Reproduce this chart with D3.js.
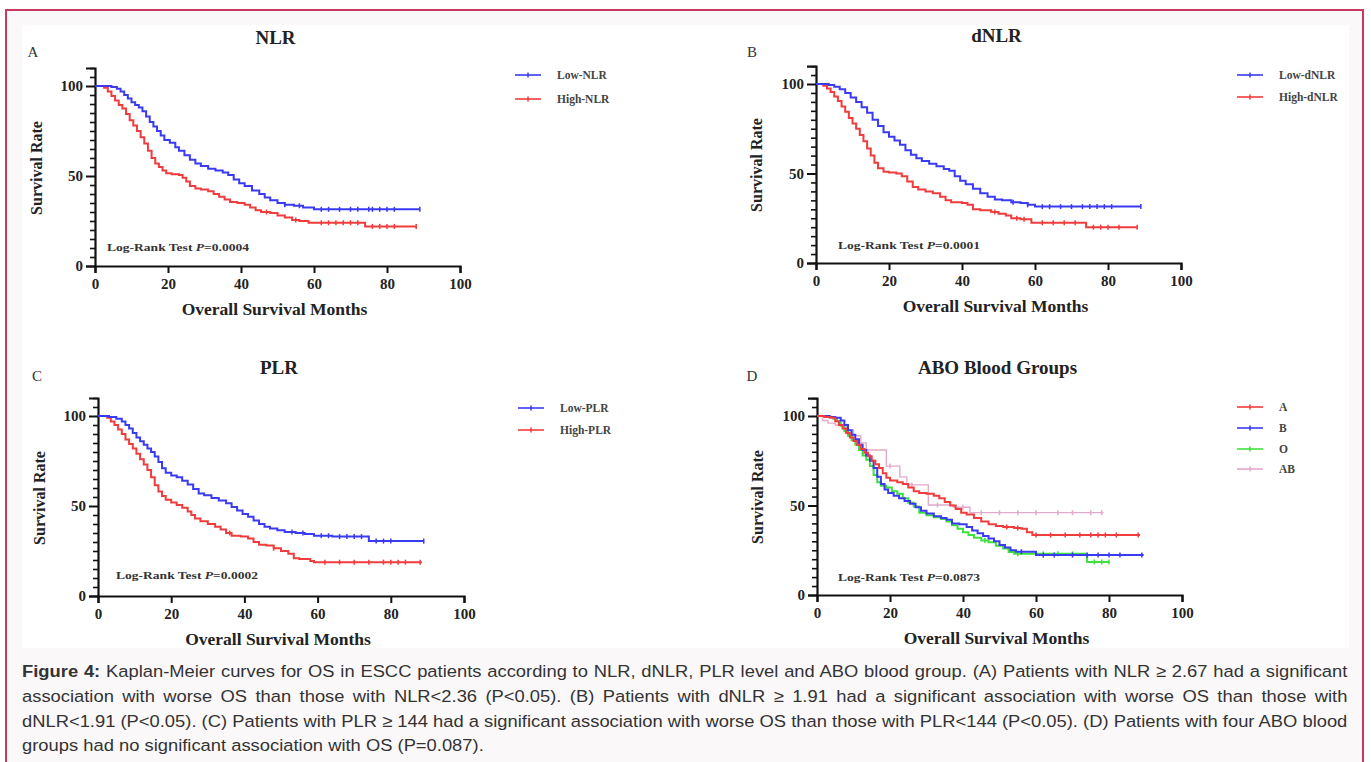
<!DOCTYPE html>
<html><head><meta charset="utf-8">
<script src="https://cdn.jsdelivr.net/npm/d3@7"></script>
<style>body{margin:0;background:#fff;}svg{display:block}</style>
</head><body>
<svg id="c" width="1371" height="762"></svg>
<script>
// ---------- data ----------
const xTicks = [0, 20, 40, 60, 80, 100];
const yTicks = [0, 50, 100];
const yMinor = [5,10,15,20,25,30,35,40,45,55,60,65,70,75,80,85,90,95,105,110];

// Panel A : NLR
const lowNLR = [[0,100],[4.5,99.5],[6,98.5],[7,97],[8,95],[9,93],[10,91],[11,89.5],[12,88],[13,86],[14,83],[15,80],[16,77.5],[17,75],[18,72.5],[19,70],[20.5,68.5],[22,66],[23,64],[24.5,61.5],[26,59],[27.5,57],[29,55.5],[31,54],[33,53],[35,52],[36.5,50.5],[38,48],[39.5,46],[41,44.5],[43,42],[45,40],[46.5,38],[48,36.5],[50,35],[52,34],[54.5,33.5],[57,32.5],[60,31.5],[89,31.5]];
const highNLR = [[0,100],[2.5,99],[3.5,97],[4.5,94.5],[5.5,92],[6.5,89.5],[7.5,87.5],[8.5,84.5],[9.5,81],[10.5,78],[11.5,75],[12.5,71.5],[13.5,68],[14.5,64],[15.5,60],[16.5,57],[17.5,55],[18.5,53],[19.5,51.5],[21,51],[23,50.5],[24,49],[25,47],[26,44.5],[27.5,43],[29,42.5],[31,41.5],[32.5,40],[34,38.5],[35.5,37],[37,35.5],[39,35],[41,34],[42.5,32.5],[44,31],[45.5,30],[48,29.5],[50,28],[52,27],[54,25.5],[56,25],[58.5,24],[74,22],[88,22]];
const lowNLRCens = [52,56,62,64,67,70,72,75,76,78,80,82,89];
const highNLRCens = [47,55,62,64,66,68,70,72,76,78,80,82,88];

// Panel B : dNLR
const lowDNLR = [[0,100],[3.5,99.5],[5,98.5],[6.5,97],[8,95],[9.5,92.5],[11,90],[12.5,87],[14,84],[15.5,80],[17,76.5],[18.5,73],[20,70.5],[21.5,68.5],[23,66],[24.5,63],[26,60.5],[27.5,58.5],[29,57],[31,55.5],[33,54],[35,52.5],[36.5,51.5],[38,48.5],[39.5,46],[41,44],[43,41.5],[45,39],[47,37],[49,35.5],[51,35],[53.5,34],[56,33.5],[58,32.5],[60,31.5],[89,31.5]];
const highDNLR = [[0,100],[2,99],[3,97.5],[4,95.5],[5,93],[6,90.5],[7,87.5],[8,84.5],[9,81],[10,78],[11,75],[12,71.5],[13,68],[14,64],[15,60],[16,56],[17,53],[18.5,51],[20,50.5],[22,50],[23.5,48.5],[25,45.5],[26.5,42.5],[28,41],[30,40],[32,39],[34,37],[35.5,35],[37,34],[40,33.5],[41.5,32.5],[43,30],[45,29.5],[48,28.5],[50,27.5],[52,26.5],[53.5,25],[56,24.5],[59,22.5],[74,20],[88,20]];
const lowDNLRCens = [54,58,62,64,67,70,73,75,77,79,81,89];
const highDNLRCens = [49,55,57,62,65,68,71,76,78,80,83,88];

// Panel C : PLR
const lowPLR = [[0,100],[3,99.5],[5,98.5],[6.5,97],[7.5,95],[8.5,93],[9.5,90.5],[10.5,88],[11.5,86],[12.5,84],[13.5,82],[14.5,80],[15.5,77.5],[16.5,74.5],[17.5,71],[18.5,68.5],[20,67],[21.5,66],[23,64],[24.5,62],[26,59.5],[27.5,57],[29,56],[31,54.5],[33,53],[35,51.5],[36.5,49.5],[38,47.5],[39.5,45.5],[41,44],[42.5,42],[44,40],[45.5,38.5],[47,37.5],[49,36.5],[51,35.5],[54,35],[56.5,34.5],[59,33.5],[64,33],[74,30.5],[89,30.5]];
const highPLR = [[0,100],[2.5,99],[3.5,97],[4.5,95],[5.5,92.5],[6.5,90],[7.5,87],[8.5,84.5],[9.5,82],[10.5,79],[11.5,76],[12.5,73],[13.5,70],[14.5,66],[15.5,61.5],[16.5,58],[17.5,55.5],[18.5,53.5],[20,52],[21.5,50.5],[23,49],[24.5,47],[25.5,45],[26.5,43],[28,41.5],[30,40],[32,38.5],[33.5,37],[35,35],[36.5,33.5],[39,33],[41,32],[42.5,30],[44,28.5],[46,28],[48,26.5],[50,25],[52,23.5],[53.5,21],[55,20.5],[58,19.5],[59,18.8],[88.5,18.8]];
const lowPLRCens = [53,56,61,63,66,68,70,72,76,78,80,89];
const highPLRCens = [36,48,62,66,70,74,78,80,82,84,88];

// Panel D : ABO blood groups
const groupA = [[0,100],[2,99.5],[3.5,99],[5,97],[6,95],[7,93],[8,90.5],[9,88],[10,86],[11,84],[12,81.5],[13,79.5],[14,77.5],[15,75],[16,73],[17,71],[18,68],[19,65.5],[20,64],[22,63],[23.5,62],[25,60],[26.5,58],[28,57],[30,56.5],[32,55.5],[33.5,54],[35,52],[36.5,50],[38,48],[39.5,46],[41,45],[43,43],[45,41],[47,39.5],[49,38.5],[51,38],[54,37.5],[56,37],[57.5,35],[59,33.5],[88.5,33.5]];
const groupB = [[0,100],[3.5,99.5],[5,99],[6.5,97.5],[7.5,95],[8.5,92],[9.5,89.5],[10.5,87],[11.5,84],[12.5,81],[13.5,78],[14.5,75],[15.5,71],[16.5,66],[17.5,62],[18.5,59],[19.5,57],[21,55.5],[22.5,54],[24,52.5],[25.5,51],[27,49],[28.5,47],[30,45.5],[32,44],[34,43],[35.5,42],[37,40],[39,39.5],[41,38],[42.5,36],[44,34.5],[45.5,33],[47,31.5],[48.5,30],[50,28],[51.5,26.5],[53,25],[54.5,24.2],[60,22.3],[89.5,22.3]];
const groupO = [[0,100],[3,99.5],[4.5,98.5],[5.5,97],[6.5,94.5],[7.5,91.5],[8.5,89],[9.5,86.5],[10.5,84],[11.5,81],[12.5,78],[13.5,75.5],[14.5,72],[15.5,67],[16.5,63],[17.5,61],[19,60],[20.5,58],[22,56.5],[23.5,54],[25,51.5],[26.5,49.5],[28,46],[30,44.5],[32,43.5],[34,42.5],[35.5,41],[37,39],[38.5,37],[40,35],[41.5,33.5],[43,32],[45,30.5],[47,29.5],[49,27.5],[51,26],[52.5,24],[54,23],[74,18.5],[80,18.5]];
const groupAB = [[0,100],[1.5,97.5],[3,96],[5,95],[8,92],[10,89],[12,85],[13.5,81],[19,72],[22.7,66],[24.6,61.5],[30.5,50.3],[37.4,49],[41.9,46],[78.5,46]];
const groupACens = [52,55,60,64,68,72,75,77,79,82,88];
const groupBCens = [56,62,65,70,74,77,80,83,89];
const groupOCens = [46,55,62,66,70,76,78,80];
const groupABCens = [20,26,33,40,45,50,55,60,66,70,75,78];

const captionLines = [
  ["Figure 4:", " Kaplan-Meier curves for OS in ESCC patients according to NLR, dNLR, PLR level and ABO blood group. (A) Patients with NLR \u2265 2.67 had a significant"],
  ["", "association with worse OS than those with NLR<2.36 (P<0.05). (B) Patients with dNLR \u2265 1.91 had a significant association with worse OS than those with"],
  ["", "dNLR<1.91 (P<0.05). (C) Patients with PLR \u2265 144 had a significant association with worse OS than those with PLR<144 (P<0.05). (D) Patients with four ABO blood"],
  ["", "groups had no significant association with OS (P=0.087)."]
];

// ---------- styles ----------
const BLUE = "#3a3af2", RED = "#f03c3c", GREEN = "#3ee03e", PINK = "#e2aacb";
const SERIF = "'Liberation Serif','Times New Roman',serif";
const SANS = "'Liberation Sans',Arial,sans-serif";

const svg = d3.select("#c");

// frame + background
svg.append("rect").attr("x",0).attr("y",0).attr("width",1371).attr("height",762).attr("fill","#ffffff");
svg.append("rect").attr("x",6).attr("y",10).attr("width",1357).attr("height",770)
  .attr("fill","#fbf8f9").attr("stroke","#c8385f").attr("stroke-width",2);
svg.append("rect").attr("x",22).attr("y",25).attr("width",1327).attr("height",623).attr("fill","#ffffff");

const panels = [
  {letter:"A", title:"NLR", lx:33, ly:57, x0:95, x1:460, y0:266, y100:86,
   series:[{name:"Low-NLR",color:BLUE,data:lowNLR,cens:lowNLRCens},{name:"High-NLR",color:RED,data:highNLR,cens:highNLRCens}],
   legX:515, legY:[75,99], p:"0.0004", lrX:107, lrY:251, ylabX:37},
  {letter:"B", title:"dNLR", lx:752, ly:57, x0:816, x1:1181, y0:263, y100:84,
   series:[{name:"Low-dNLR",color:BLUE,data:lowDNLR,cens:lowDNLRCens},{name:"High-dNLR",color:RED,data:highDNLR,cens:highDNLRCens}],
   legX:1237, legY:[75,97], p:"0.0001", lrX:838, lrY:249, ylabX:757},
  {letter:"C", title:"PLR", lx:37, ly:381, x0:98, x1:464, y0:596, y100:416,
   series:[{name:"Low-PLR",color:BLUE,data:lowPLR,cens:lowPLRCens},{name:"High-PLR",color:RED,data:highPLR,cens:highPLRCens}],
   legX:518, legY:[408,430], p:"0.0002", lrX:116, lrY:579, ylabX:40},
  {letter:"D", title:"ABO Blood Groups", lx:752, ly:381, x0:817, x1:1182, y0:595, y100:416,
   series:[{name:"A",color:RED,data:groupA,cens:groupACens},{name:"B",color:BLUE,data:groupB,cens:groupBCens},
           {name:"O",color:GREEN,data:groupO,cens:groupOCens},{name:"AB",color:PINK,data:groupAB,cens:groupABCens}],
   legX:1237, legY:[407,428,449,469], p:"0.0873", lrX:838, lrY:581, ylabX:758, drawOrder:[3,2,1,0]}
];

function survAt(data, t){
  let s = data[0][1];
  for (const d of data){ if (d[0] <= t) s = d[1]; else break; }
  return s;
}

panels.forEach(P => {
  const x = d3.scaleLinear().domain([0,100]).range([P.x0, P.x1]);
  const yUnit = (P.y0 - P.y100) / 100;
  const y = d3.scaleLinear().domain([0,110]).range([P.y0, P.y0 - 110*yUnit]);
  const g = svg.append("g");
  const cx = (P.x0 + P.x1)/2 - 2;

  g.append("text").attr("x",P.lx).attr("y",P.ly).attr("text-anchor","middle")
    .attr("font-family",SERIF).attr("font-size",15).attr("fill","#333").text(P.letter);
  g.append("text").attr("x",cx).attr("y",P.y100 - 42).attr("text-anchor","middle")
    .attr("font-family",SERIF).attr("font-weight","bold").attr("font-size",19).attr("fill","#222").text(P.title);

  const ya = g.append("g").attr("transform",`translate(${P.x0},0)`)
    .call(d3.axisLeft(y).tickValues(yTicks).tickSize(9).tickPadding(3).tickFormat(d3.format("d")));
  ya.select(".domain").attr("stroke","#111").attr("stroke-width",2.2);
  ya.selectAll(".tick line").attr("stroke","#111").attr("stroke-width",2);
  ya.selectAll(".tick text").attr("font-family",SERIF).attr("font-weight","bold").attr("font-size",15).attr("fill","#222");
  const ym = g.append("g").attr("transform",`translate(${P.x0},0)`)
    .call(d3.axisLeft(y).tickValues(yMinor).tickSize(5).tickFormat(""));
  ym.select(".domain").remove();
  ym.selectAll(".tick line").attr("stroke","#111").attr("stroke-width",1.6);

  const xa = g.append("g").attr("transform",`translate(0,${P.y0})`)
    .call(d3.axisBottom(x).tickValues(xTicks).tickSize(7).tickPadding(5).tickFormat(d3.format("d")));
  xa.select(".domain").attr("stroke","#111").attr("stroke-width",2.2);
  xa.selectAll(".tick line").attr("stroke","#111").attr("stroke-width",2);
  xa.selectAll(".tick text").attr("font-family",SERIF).attr("font-weight","bold").attr("font-size",15).attr("fill","#222");

  g.append("text").attr("x",cx - 1).attr("y",P.y0 + 49).attr("text-anchor","middle")
    .attr("font-family",SERIF).attr("font-weight","bold").attr("font-size",17.5).attr("fill","#222")
    .text("Overall Survival Months");
  g.append("text").attr("transform",`translate(${P.ylabX + 5},${P.y0 - 98}) rotate(-90)`).attr("text-anchor","middle")
    .attr("font-family",SERIF).attr("font-weight","bold").attr("font-size",16).attr("fill","#222")
    .text("Survival Rate");

  const line = d3.line().x(d => x(d[0])).y(d => y(d[1])).curve(d3.curveStepAfter);
  const order = P.drawOrder || P.series.map((_,i)=>i).reverse();
  order.forEach(i => {
    const s = P.series[i];
    g.append("path").attr("d", line(s.data)).attr("fill","none")
      .attr("stroke", s.color).attr("stroke-width", s.color===PINK ? 1.4 : 2);
    g.selectAll(null).data(s.cens).enter().append("line")
      .attr("x1", t => x(t)).attr("x2", t => x(t))
      .attr("y1", t => y(survAt(s.data,t)) - 2.5).attr("y2", t => y(survAt(s.data,t)) + 2.5)
      .attr("stroke", s.color).attr("stroke-width", 1.5);
  });

  const lr = g.append("text").attr("x",P.lrX).attr("y",P.lrY)
    .attr("font-family",SERIF).attr("font-weight","bold").attr("font-size",10.5).attr("fill","#333")
    .attr("textLength",142).attr("lengthAdjust","spacingAndGlyphs");
  lr.append("tspan").text("Log-Rank Test  ");
  lr.append("tspan").attr("font-style","italic").text("P");
  lr.append("tspan").text("=" + P.p);

  P.series.forEach((s,i) => {
    const ly = P.legY[i];
    g.append("line").attr("x1",P.legX).attr("x2",P.legX+26).attr("y1",ly).attr("y2",ly)
      .attr("stroke",s.color).attr("stroke-width",1.6);
    g.append("line").attr("x1",P.legX+13).attr("x2",P.legX+13).attr("y1",ly-2.5).attr("y2",ly+2.5)
      .attr("stroke",s.color).attr("stroke-width",1.5);
    g.append("text").attr("x",P.legX+42).attr("y",ly+4)
      .attr("font-family",SERIF).attr("font-weight","bold").attr("font-size",11.5).attr("fill","#444")
      .text(s.name);
  });
});

// caption: justified lines 1-3, last line left aligned
const capY = [677, 702, 727, 751];
const capX = 22, capW = 1326, lastW = 467;
const capG = svg.append("g");
const capTexts = captionLines.map((ln,i) => {
  const t = capG.append("text").attr("y",capY[i])
    .attr("font-family",SANS).attr("font-size",17).attr("fill","#333");
  if (ln[0]) t.append("tspan").attr("font-weight","bold").text(ln[0]);
  t.append("tspan").text(ln[1]);
  return t;
});
const widths = capTexts.map(t => t.node().getComputedTextLength());
let sx = lastW / widths[3];
for (let i = 0; i < 3; i++) sx = Math.min(sx, capW / widths[i]);
capTexts.forEach((t,i) => {
  t.attr("transform", `translate(${capX},0) scale(${sx},1)`).attr("x",0);
  if (i < 3) {
    const full = captionLines[i][0] + captionLines[i][1];
    const spaces = (full.match(/ /g) || []).length;
    const extra = (capW / sx - widths[i]) / spaces;
    t.attr("word-spacing", extra);
  }
});
</script>
</body></html>
